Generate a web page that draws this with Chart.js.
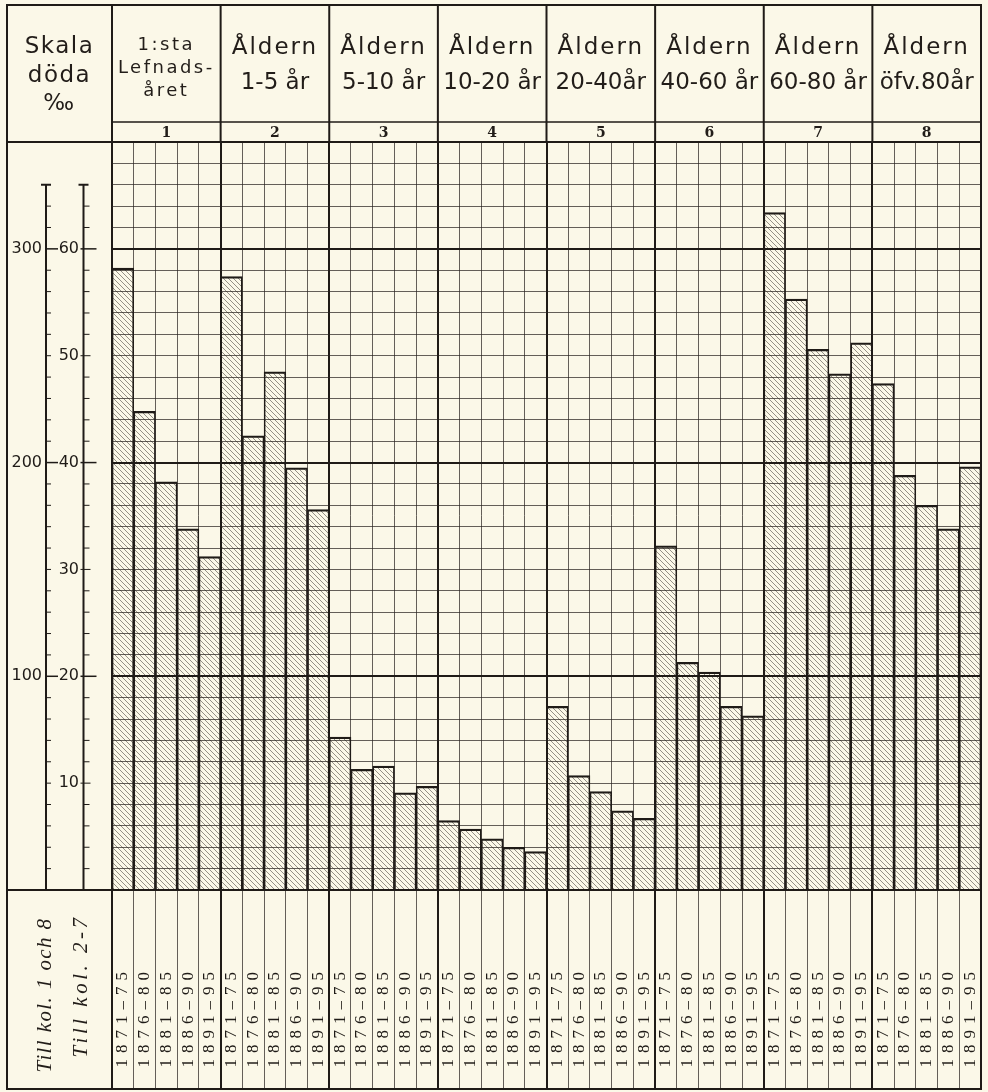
<!DOCTYPE html>
<html><head><meta charset="utf-8">
<script src="https://cdn.jsdelivr.net/npm/chart.js@4/dist/chart.umd.min.js"></script>
<style>
html,body{margin:0;padding:0;background:#fbf8e8;overflow:hidden;}
#wrap{position:relative;width:988px;height:1092px;overflow:hidden;background:#fbf8e8;}
#c{position:absolute;left:0;top:0;}
.t{position:absolute;color:#221d19;font-family:"DejaVu Sans",sans-serif;text-align:center;white-space:nowrap;}
</style></head><body>
<div id="wrap"><canvas id="c" width="988" height="1092"></canvas></div>
<script>
const INK = '#1f1b17';
const BG = '#fbf8e8';

// ---- texts ----
const periods = ['1871–75', '1876–80', '1881–85', '1886–90', '1891–95'];
const groupTitles = [
  ['1:sta', 'Lefnads-', 'året'],
  ['Åldern', '1-5 år'],
  ['Åldern', '5-10 år'],
  ['Åldern', '10-20 år'],
  ['Åldern', '20-40år'],
  ['Åldern', '40-60 år'],
  ['Åldern', '60-80 år'],
  ['Åldern', 'öfv.80år']
];
const groupNumbers = ['1', '2', '3', '4', '5', '6', '7', '8'];
const scaleTitle = ['Skala', 'döda', '‰'];
const scaleNotes = ['Till kol. 1 och 8', 'Till kol. 2-7'];
const permilleTicks = [100, 200, 300];
const unitTicks = [10, 20, 30, 40, 50, 60];

// ---- values (deaths per 1000) ----
const infantsPermille = [291, 224, 191, 169, 156];   // kol. 1, scale 100-300
const age1to5   = [57.4, 42.5, 48.5, 39.5, 35.6];   // kol. 2
const age5to10  = [14.3, 11.3, 11.6, 9.1, 9.7];     // kol. 3
const age10to20 = [6.5, 5.7, 4.8, 4.0, 3.6];        // kol. 4
const age20to40 = [17.2, 10.7, 9.2, 7.4, 6.7];      // kol. 5
const age40to60 = [32.2, 21.3, 20.4, 17.2, 16.3];   // kol. 6
const age60to80 = [63.4, 55.3, 50.6, 48.3, 51.2];   // kol. 7
const over80Permille = [237, 194, 180, 169, 198];    // kol. 8, scale 100-300

const labels = [];
groupTitles.forEach(() => periods.forEach(p => labels.push(p)));
const none = periods.map(() => null);
const permilleData = [].concat(infantsPermille, none, none, none, none, none, none, over80Permille);
const unitData = [].concat(none, age1to5, age5to10, age10to20, age20to40, age40to60, age60to80, none);

function makeHatch() {
  const s = 5;
  const c = document.createElement('canvas');
  c.width = s; c.height = s;
  const g = c.getContext('2d');
  g.strokeStyle = 'rgba(35,30,25,0.6)';
  g.lineWidth = 0.8;
  g.beginPath();
  g.moveTo(-1, -1); g.lineTo(s + 1, s + 1);
  g.moveTo(-1, s - 1); g.lineTo(1, s + 1);
  g.moveTo(s - 1, -1); g.lineTo(s + 1, 1);
  g.stroke();
  return document.getElementById('c').getContext('2d').createPattern(c, 'repeat');
}
const hatch = makeHatch();

const barStyle = {
  backgroundColor: hatch,
  borderColor: INK,
  borderWidth: {top: 1.6, left: 1, right: 1, bottom: 0},
  borderSkipped: 'start',
  grouped: false,
  barPercentage: 1,
  categoryPercentage: 1
};

function seg(ctx, x1, y1, x2, y2, w) {
  ctx.lineWidth = w;
  ctx.beginPath(); ctx.moveTo(x1, y1); ctx.lineTo(x2, y2); ctx.stroke();
}

const framePlugin = {
  id: 'frame',
  beforeDraw(chart) {
    const ctx = chart.ctx;
    ctx.save(); ctx.fillStyle = BG; ctx.fillRect(0, 0, chart.width, chart.height); ctx.restore();
    const xs = chart.scales.x;
    if (!xs._spaced) {
      const orig = xs.drawLabels.bind(xs);
      xs.drawLabels = function (area) {
        const c = this.ctx;
        c.save();
        if ('letterSpacing' in c) c.letterSpacing = '6px';
        orig(area);
        c.restore();
      };
      xs._spaced = true;
    }
  },
  afterDraw(chart) {
    const ctx = chart.ctx, ca = chart.chartArea, xs = chart.scales.x, ys = chart.scales.y;
    const L = 7, T = 5, R = ca.right, B = xs.bottom;
    const cw = (ca.right - ca.left) / labels.length;
    ctx.save();
    ctx.strokeStyle = INK;
    ctx.lineWidth = 2;
    ctx.strokeRect(L, T, R - L, B - T);
    seg(ctx, L, ca.top, ca.left, ca.top, 2);
    seg(ctx, L, ca.bottom, ca.left, ca.bottom, 2);
    seg(ctx, ca.left, ca.top - 20, R, ca.top - 20, 1.5);
    for (let g = 0; g <= groupTitles.length; g++) {
      const x = ca.left + g * periods.length * cw;
      seg(ctx, x, T, x, ca.top, 2);
    }
    // scale column
    const ax = ys.left, bx = ys.left + 37.5;
    const yTop = ys.getPixelForValue(66), y0 = ys.getPixelForValue(0);
    seg(ctx, ax, yTop, ax, y0, 2);
    seg(ctx, bx, yTop, bx, y0, 2);
    seg(ctx, ax - 5, yTop, ax + 5, yTop, 2);
    seg(ctx, bx - 5, yTop, bx + 5, yTop, 2);
    for (let v = 2; v < 66; v += 2) {
      const y = ys.getPixelForValue(v);
      if (v % 20 === 0) { seg(ctx, ax, y, ax + 12, y, 1.5); seg(ctx, bx - 3, y, bx + 13, y, 1.5); }
      else if (v % 10 === 0) { seg(ctx, ax + 1, y, ax + 5, y, 1); seg(ctx, bx - 3, y, bx + 7, y, 1); }
      else { seg(ctx, ax, y, ax + 5, y, 1); seg(ctx, bx, y, bx + 6, y, 1); }
    }
    ctx.restore();
  }
};

const chart = new Chart(document.getElementById('c'), {
  type: 'bar',
  data: {
    labels: labels,
    datasets: [
      Object.assign({label: 'Kol. 1 och 8', data: permilleData, yAxisID: 'yp'}, barStyle),
      Object.assign({label: 'Kol. 2-7', data: unitData, yAxisID: 'y'}, barStyle)
    ]
  },
  options: {
    responsive: false,
    animation: false,
    devicePixelRatio: 1,
    layout: {padding: {left: 7, right: 7, top: 142, bottom: 3}},
    plugins: {legend: {display: false}, tooltip: {enabled: false}, title: {display: false}},
    scales: {
      x: {
        type: 'category', position: 'bottom', offset: true,
        grid: {
          offset: true, drawTicks: true, tickLength: 199,
          color: c => (c.type !== 'tick' || c.index % 5 === 0) ? INK : 'rgba(40,35,30,0.8)',
          lineWidth: c => (c.type !== 'tick' || c.index % 5 === 0) ? 2 : 0.9
        },
        border: {display: true, color: INK, width: 2},
        ticks: {
          autoSkip: false, minRotation: 90, maxRotation: 90, padding: -123,
          color: INK, font: {family: 'Liberation Serif', size: 17}
        },
        afterFit: s => { s.height = 199; }
      },
      y: {
        type: 'linear', position: 'left', weight: 0, min: 0, max: 70,
        ticks: {
          stepSize: 2, autoSkip: false, padding: 33, color: INK,
          font: {family: 'DejaVu Sans', size: 16},
          callback: v => unitTicks.includes(v) ? String(v) : ''
        },
        grid: {
          drawTicks: false,
          color: c => (c.tick && (c.tick.value % 20 === 0 || c.tick.value === 70)) ? INK : 'rgba(40,35,30,0.8)',
          lineWidth: c => (c.tick && (c.tick.value % 20 === 0 || c.tick.value === 70)) ? 2 : 0.9
        },
        border: {display: false},
        afterFit: s => { s.width = 66; }
      },
      yp: {
        type: 'linear', position: 'left', weight: 1, min: 0, max: 350,
        ticks: {
          stepSize: 50, autoSkip: false, padding: 4, color: INK,
          font: {family: 'DejaVu Sans', size: 16},
          callback: v => permilleTicks.includes(v) ? String(v) : ''
        },
        grid: {display: false, drawTicks: false},
        border: {display: false},
        afterFit: s => { s.width = 39; }
      }
    }
  },
  plugins: [framePlugin]
});

// ---- header & notes as text elements, placed from the chart's own scales ----
const wrap = document.getElementById('wrap');
function addText(txt, css) {
  const d = document.createElement('div');
  d.className = 't';
  d.textContent = txt;
  Object.assign(d.style, css);
  wrap.appendChild(d);
  return d;
}
const ca = chart.chartArea;
const cw = (ca.right - ca.left) / labels.length;
groupTitles.forEach((lines, g) => {
  const left = ca.left + g * periods.length * cw;
  const w = periods.length * cw;
  if (lines.length === 3) {
    lines.forEach((ln, i) => addText(ln, {
      left: left + 'px', width: w + 'px', top: (32 + i * 23) + 'px',
      fontSize: '18px', lineHeight: '23px', letterSpacing: '2.5px'
    }));
  } else {
    lines.forEach((ln, i) => addText(ln, {
      left: left + 'px', width: w + 'px', top: (29 + i * 35) + 'px',
      fontSize: '23px', lineHeight: '35px', letterSpacing: i === 0 ? '2px' : '0px'
    }));
  }
  addText(groupNumbers[g], {
    left: left + 'px', width: w + 'px', top: (ca.top - 20) + 'px', height: '20px',
    lineHeight: '20px', fontSize: '14px', fontWeight: 'bold', fontFamily: '"DejaVu Serif",serif'
  });
});
const ys = chart.scales.y, yps = chart.scales.yp;
scaleTitle.forEach((ln, i) => addText(ln, {
  left: yps.left + 'px', width: (ca.left - yps.left) + 'px', top: (31 + i * 28.5) + 'px',
  fontSize: '23px', lineHeight: '28.5px', letterSpacing: '1.5px'
}));
const notePos = [[yps.right - 2, 995, '1.4px'], [ys.left + 34, 986, '3.5px']];
scaleNotes.forEach((n, i) => addText(n, {
  left: notePos[i][0] + 'px', top: notePos[i][1] + 'px',
  transform: 'translate(-50%,-50%) rotate(-90deg)',
  fontFamily: '"Liberation Serif",serif', fontStyle: 'italic', fontSize: '21px',
  letterSpacing: notePos[i][2], lineHeight: '24px'
}));
</script>
</body></html>
